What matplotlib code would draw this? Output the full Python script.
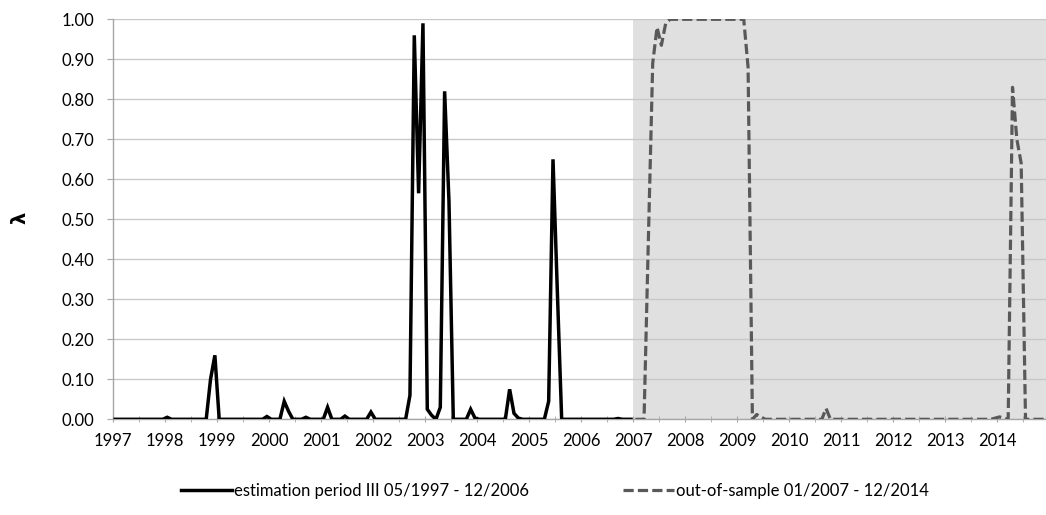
import numpy as np
import matplotlib
matplotlib.use('Agg')
import matplotlib.pyplot as plt
from matplotlib.ticker import MultipleLocator, FormatStrFormatter

plt.rcParams['font.family'] = ['Lato', 'DejaVu Sans']

# monthly lambda, estimation period (01/1997 - 12/2006), one row per year
est_vals = [
    0, 0, 0, 0, 0, 0, 0, 0, 0, 0, 0, 0,                          # 1997
    0.005, 0, 0, 0, 0, 0, 0, 0, 0, 0, 0.10, 0.16,                # 1998
    0, 0, 0, 0, 0, 0, 0, 0, 0, 0, 0, 0.007,                      # 1999
    0, 0, 0, 0.045, 0.02, 0, 0, 0, 0.005, 0, 0, 0,               # 2000
    0, 0.03, 0, 0, 0, 0.008, 0, 0, 0, 0, 0, 0.018,               # 2001
    0, 0, 0, 0, 0, 0, 0, 0, 0.06, 0.96, 0.565, 0.99,             # 2002
    0.025, 0.01, 0, 0.03, 0.82, 0.545, 0, 0, 0, 0, 0.025, 0.003, # 2003
    0, 0, 0, 0, 0, 0, 0, 0.075, 0.015, 0.003, 0, 0,              # 2004
    0, 0, 0, 0, 0.045, 0.65, 0.32, 0, 0, 0, 0, 0,                # 2005
    0, 0, 0, 0, 0, 0, 0, 0, 0.002, 0, 0, 0,                      # 2006
]

# out-of-sample (01/2007 - 12/2014)
oos_vals = [
    0, 0, 0, 0.45, 0.89, 0.98, 0.935, 0.99, 1.0, 1.0, 1.0, 1.0,  # 2007
    1.0, 1.0, 1.0, 1.0, 1.0, 1.0, 1.0, 1.0, 1.0, 1.0, 1.0, 1.0,  # 2008
    1.0, 1.0, 0.88, 0, 0.012, 0.005, 0, 0, 0, 0, 0, 0,           # 2009
    0, 0, 0, 0, 0, 0, 0, 0, 0.027, 0, 0, 0,                      # 2010
    0, 0, 0, 0, 0, 0, 0, 0, 0, 0, 0, 0,                          # 2011
    0, 0, 0, 0, 0, 0, 0, 0, 0, 0, 0, 0,                          # 2012
    0, 0, 0, 0, 0, 0, 0, 0, 0, 0, 0, 0.003,                      # 2013
    0.006, 0.003, 0, 0.83, 0.70, 0.64, 0, 0, 0, 0, 0, 0,         # 2014
]

est_label = 'estimation period III 05/1997 - 12/2006'
oos_label = 'out-of-sample 01/2007 - 12/2014'
years = list(range(1997, 2015))

# month centres as fractional years
x_est = 1997 + (np.arange(len(est_vals)) + 0.5) / 12
x_oos = 2007 + (np.arange(len(oos_vals)) + 0.5) / 12

fig = plt.figure(figsize=(10.46, 5.15), dpi=100)
ax = fig.add_axes([113 / 1046, 1 - 419.3 / 515, 1 - 113 / 1046, 400 / 515])

# shaded out-of-sample window
ax.axvspan(2007, 2016, color='#e0e0e0', lw=0, zorder=0.2)
ax.plot(x_est, est_vals, color='black', lw=2.5, solid_joinstyle='miter', zorder=3, label=est_label)
ax.plot(x_oos, oos_vals, color='#595959', lw=2.3, dashes=(3.2, 1.3), zorder=3, label=oos_label)

ax.set_xlim(1997, 1997 + (1046 - 113) / 52.02)
ax.set_ylim(0, 1)
ax.yaxis.set_major_locator(MultipleLocator(0.1))
ax.yaxis.set_major_formatter(FormatStrFormatter('%.2f'))
ax.set_xticks(years)
ax.set_xticklabels([str(y) for y in years])
ax.xaxis.set_minor_locator(MultipleLocator(0.5))

ax.set_axisbelow(True)
ax.grid(axis='y', color='#c8c8c8', lw=1.0, zorder=0.5)
for s in ['top', 'right']:
    ax.spines[s].set_visible(False)
for s in ['left', 'bottom']:
    ax.spines[s].set_color('#a6a6a6')
    ax.spines[s].set_linewidth(1.0)

ax.tick_params(axis='y', direction='out', length=4.5, color='#a6a6a6', pad=9, labelsize=12)
ax.tick_params(axis='x', which='both', direction='inout', length=5, color='#a6a6a6', pad=7.5, labelsize=12)

fig.text(20 / 1046, 1 - 218 / 515, 'λ', rotation=90, fontsize=14, fontweight='bold',
         family='DejaVu Sans', ha='center', va='center')

fig.legend(loc='center', bbox_to_anchor=(555 / 1046, 1 - 491 / 515), ncol=2, frameon=False,
           fontsize=12, handlelength=3.1, handletextpad=0.12, columnspacing=5.6)

fig.savefig('out.png', dpi=100)
